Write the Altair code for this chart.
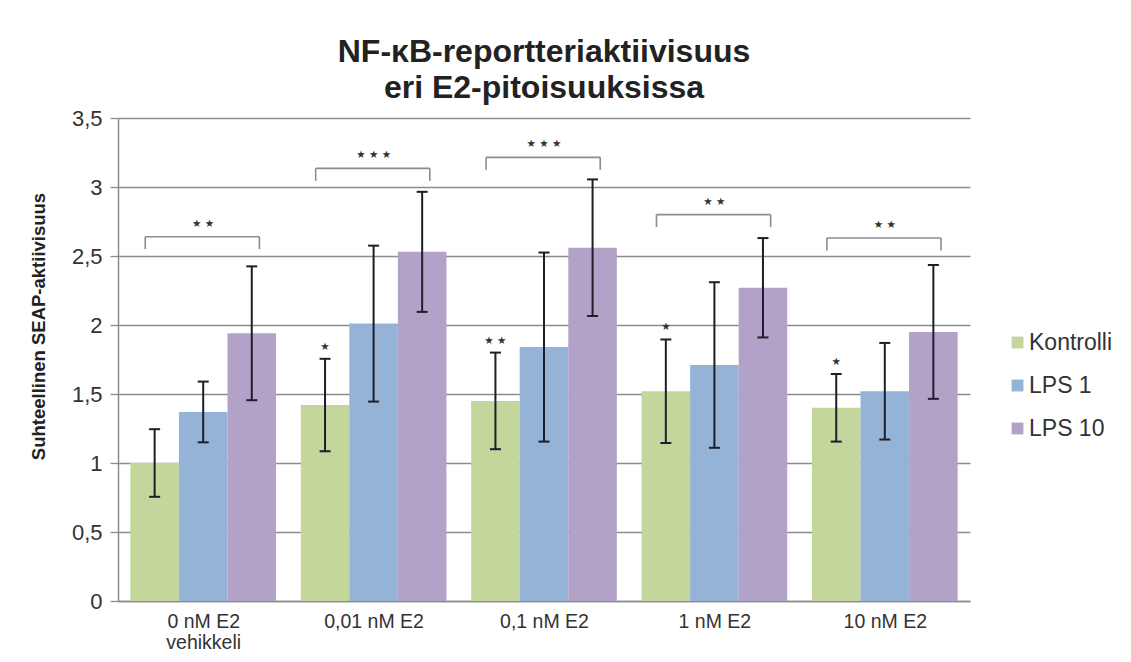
import json
import altair as alt
import pandas as pd

# ---- data ----
categories = ["0 nM E2\nvehikkeli", "0,01 nM E2", "0,1 nM E2", "1 nM E2", "10 nM E2"]
series = ["Kontrolli", "LPS 1", "LPS 10"]

kontrolli_mean = [1.00, 1.42, 1.45, 1.52, 1.40]
kontrolli_err = [0.245, 0.335, 0.35, 0.375, 0.245]
lps1_mean = [1.37, 2.01, 1.84, 1.71, 1.52]
lps1_err = [0.22, 0.565, 0.685, 0.60, 0.35]
lps10_mean = [1.94, 2.53, 2.56, 2.27, 1.95]
lps10_err = [0.485, 0.435, 0.495, 0.36, 0.485]

kontrolli_sig = ["", "★", "★ ★", "★", "★"]
bracket_y = [2.64, 3.135, 3.215, 2.80, 2.63]
bracket_sig = ["★ ★", "★ ★ ★", "★ ★ ★", "★ ★", "★ ★"]

y_ticks = [0, 0.5, 1, 1.5, 2, 2.5, 3, 3.5]
colors = ["#c3d69b", "#95b3d7", "#b3a2c7"]

means = [kontrolli_mean, lps1_mean, lps10_mean]
errs = [kontrolli_err, lps1_err, lps10_err]

rows = []
for ci, cat in enumerate(categories):
    for si, s in enumerate(series):
        rows.append({
            "cat": cat, "ci": ci, "series": s, "si": si,
            "mean": means[si][ci], "err": errs[si][ci],
            "sig": kontrolli_sig[ci] if si == 0 else "",
        })
df = pd.DataFrame(rows)

bdf = pd.DataFrame({"ci": list(range(len(categories))), "by": bracket_y, "sig": bracket_sig})

FONT = "Liberation Sans"
GRID = "#8c8c8c"
ERR = "#1e1e2a"

x_scale = alt.Scale(domain=[-0.5, len(categories) - 0.5], nice=False, zero=False)
y_scale = alt.Scale(domain=[0, 3.5], nice=False)

label_expr = json.dumps([c.split("\n") for c in categories]) + "[datum.value]"

x_axis = alt.Axis(
    values=list(range(len(categories))), labelExpr=label_expr, title=None,
    ticks=False, grid=False, domainColor=GRID, domainWidth=1.5,
    labelFontSize=19.5, labelPadding=11, labelColor="#333", labelFont=FONT,
    labelLineHeight=21, labelOverlap=False, labelFlush=False,
)
y_axis = alt.Axis(
    values=y_ticks, labelExpr="replace(format(datum.value, ''), '.', ',')",
    grid=True, gridColor=GRID, gridWidth=1.3, tickSize=8, tickColor=GRID, tickWidth=1.3,
    domainColor=GRID, domainWidth=1.5, labelFontSize=22, labelPadding=8,
    labelColor="#333", labelFont=FONT,
    title="Suhteellinen SEAP-aktiivisuus", titleFontSize=18.5, titleFont=FONT,
    titleFontWeight="bold", titleColor="#222", titleX=-80, titleY=208,
    titleAlign="center", titleBaseline="middle", titleAngle=270,
)

base = alt.Chart(df).transform_calculate(
    xc="datum.ci + (datum.si - 1) * 0.285",
    x0="datum.ci + (datum.si - 1) * 0.285 - 0.1425",
    x1="datum.ci + (datum.si - 1) * 0.285 + 0.1425",
    lo="datum.mean - datum.err",
    hi="datum.mean + datum.err",
)

bars = base.mark_bar().encode(
    x=alt.X("x0:Q", scale=x_scale, axis=x_axis),
    x2="x1:Q",
    y=alt.Y("mean:Q", scale=y_scale, axis=y_axis),
    y2=alt.datum(0),
    color=alt.Color(
        "series:N", scale=alt.Scale(domain=series, range=colors), title=None,
        legend=alt.Legend(
            orient="none", legendX=888, legendY=213, symbolType="square",
            symbolSize=140, symbolStrokeWidth=0, labelFontSize=23, labelFont=FONT,
            labelColor="#333", labelOffset=0, rowPadding=19, padding=0,
            labelLimit=300,
        ),
    ),
)

err_rule = base.mark_rule(color=ERR, strokeWidth=2).encode(
    x=alt.X("xc:Q", scale=x_scale),
    y=alt.Y("lo:Q", scale=y_scale),
    y2="hi:Q",
)

err_caps = base.transform_fold(["lo", "hi"], as_=["end", "yv"]).mark_tick(
    orient="horizontal", size=11, thickness=2, color=ERR, opacity=1
).encode(
    x=alt.X("xc:Q", scale=x_scale),
    y=alt.Y("yv:Q", scale=y_scale),
)

ctrl_stars = base.transform_filter("datum.sig != ''").mark_text(
    font="DejaVu Sans", fontSize=10.5, color="#333", baseline="middle", dy=-12
).encode(
    x=alt.X("xc:Q", scale=x_scale),
    y=alt.Y("hi:Q", scale=y_scale),
    text="sig:N",
)

bbase = alt.Chart(bdf).transform_calculate(
    bl="datum.ci - 0.34", br="datum.ci + 0.33", leg="datum.by - 0.09"
)

br_h = bbase.mark_rule(color=GRID, strokeWidth=1.6).encode(
    x=alt.X("bl:Q", scale=x_scale),
    x2="br:Q",
    y=alt.Y("by:Q", scale=y_scale),
)

br_legs = bbase.transform_fold(["bl", "br"], as_=["side", "bx"]).mark_rule(
    color=GRID, strokeWidth=1.6
).encode(
    x=alt.X("bx:Q", scale=x_scale),
    y=alt.Y("by:Q", scale=y_scale),
    y2="leg:Q",
)

br_stars = bbase.mark_text(
    font="DejaVu Sans", fontSize=10.5, color="#333", baseline="middle", dy=-13
).encode(
    x=alt.X("ci:Q", scale=x_scale),
    y=alt.Y("by:Q", scale=y_scale),
    text="sig:N",
)

chart = alt.layer(
    bars, err_rule, err_caps, ctrl_stars, br_h, br_legs, br_stars
).properties(
    width=852, height=483,
    padding={"left": 110, "top": 110, "right": 153, "bottom": 58},
    autosize=alt.AutoSizeParams(type="none"),
    title=alt.TitleParams(
        text=["NF-κB-reportteriaktiivisuus", "eri E2-pitoisuuksissa"],
        fontSize=32, font=FONT, fontWeight="bold", color="#222",
        anchor="middle", offset=2, lineHeight=36,
    ),
).configure(background="white").configure_view(strokeWidth=0)

chart.save("out.html", embed_options={"renderer": "svg", "actions": False})
